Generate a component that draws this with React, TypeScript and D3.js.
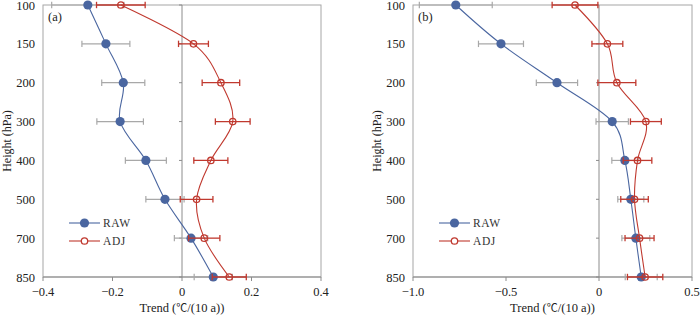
import React from "react";
import * as d3 from "d3";

const levels = ["100", "150", "200", "300", "400", "500", "700", "850"];

const aRaw = [-0.271, -0.219, -0.169, -0.178, -0.104, -0.049, 0.026, 0.09];
const aRawErr = [0.104, 0.069, 0.062, 0.067, 0.059, 0.055, 0.048, 0.055];
const aAdj = [-0.176, 0.033, 0.112, 0.146, 0.083, 0.042, 0.064, 0.136];
const aAdjErr = [0.07, 0.043, 0.054, 0.05, 0.049, 0.047, 0.045, 0.049];

const bRaw = [-0.77, -0.527, -0.226, 0.071, 0.139, 0.171, 0.198, 0.227];
const bRawErr = [0.196, 0.121, 0.111, 0.087, 0.07, 0.07, 0.075, 0.086];
const bAdj = [-0.129, 0.045, 0.096, 0.252, 0.207, 0.191, 0.218, 0.248];
const bAdjErr = [0.123, 0.083, 0.102, 0.083, 0.077, 0.074, 0.078, 0.095];

const aTicks = [-0.4, -0.2, 0, 0.2, 0.4];
const aTickLabels = ["\u22120.4", "\u22120.2", "0", "0.2", "0.4"];
const bTicks = [-1.0, -0.5, 0, 0.5];
const bTickLabels = ["\u22121.0", "\u22120.5", "0", "0.5"];

const BLUE = "#4a66a0";
const RED = "#c0392f";
const GRAYBAR = "#a8a8a8";
const FONT = "Liberation Serif, Times New Roman, DejaVu Serif, serif";
const CJK = "Noto Sans CJK SC, sans-serif";

type PanelProps = {
  x0: number;
  x1: number;
  domain: [number, number];
  ticks: number[];
  tickLabels: string[];
  raw: number[];
  rawErr: number[];
  adj: number[];
  adjErr: number[];
  tag: string;
};

function Panel(p: PanelProps) {
  const y0 = 5;
  const y1 = 277;
  const x = d3.scaleLinear().domain(p.domain).range([p.x0, p.x1]);
  const y = d3.scalePoint<string>().domain(levels).range([y0, y1]).padding(0);
  const line = d3
    .line<number>()
    .x((d) => x(d))
    .y((_, i) => y(levels[i]) as number)
    .curve(d3.curveCardinal.tension(0));
  const x0v = x(0);
  const cap = 3.2;
  const legX = p.x0 + 26;
  return (
    <g>
      {/* frame */}
      <rect x={p.x0} y={y0} width={p.x1 - p.x0} height={y1 - y0} fill="none" stroke="#a6a6a6" strokeWidth={1} />
      {/* zero axis */}
      <line x1={x0v} x2={x0v} y1={y0} y2={y1} stroke="#8c8c8c" strokeWidth={1} />
      {levels.map((l) => (
        <line key={"yt" + l} x1={x0v - 3} x2={x0v} y1={y(l)} y2={y(l)} stroke="#8c8c8c" strokeWidth={1} />
      ))}
      {/* bottom axis */}
      <line x1={p.x0} x2={p.x1} y1={y1} y2={y1} stroke="#8c8c8c" strokeWidth={1.2} />
      {p.ticks.map((t, i) => (
        <g key={"xt" + i}>
          <line x1={x(t)} x2={x(t)} y1={y1} y2={y1 + 4} stroke="#8c8c8c" strokeWidth={1} />
          <text x={x(t)} y={296} textAnchor="middle" fontSize={12.5} fontFamily={FONT} fill="#222">
            {p.tickLabels[i]}
          </text>
        </g>
      ))}
      {levels.map((l) => (
        <text key={"yl" + l} x={p.x0 - 8} y={(y(l) as number) + 4.5} textAnchor="end" fontSize={12.5} fontFamily={FONT} fill="#222">
          {l}
        </text>
      ))}
      <text
        transform={`translate(${p.x0 - 32},${(y0 + y1) / 2}) rotate(-90)`}
        textAnchor="middle"
        fontSize={12}
        fontFamily={FONT}
        fill="#222"
      >
        Height (hPa)
      </text>
      <text x={(p.x0 + p.x1) / 2} y={312} textAnchor="middle" fontSize={12.5} fontFamily={FONT} fill="#222">
        Trend (<tspan fontFamily={CJK} fontSize={11}>℃</tspan>/(10 a))
      </text>
      <text x={p.x0 + 5} y={21} fontSize={12.5} fontFamily={FONT} fill="#222">
        {p.tag}
      </text>

      {/* RAW error bars */}
      {p.raw.map((v, i) => {
        const yy = y(levels[i]) as number;
        const a = x(v - p.rawErr[i]);
        const b = x(v + p.rawErr[i]);
        return (
          <g key={"re" + i} stroke={GRAYBAR} strokeWidth={1.2}>
            <line x1={a} x2={b} y1={yy} y2={yy} />
            <line x1={a} x2={a} y1={yy - cap} y2={yy + cap} />
            <line x1={b} x2={b} y1={yy - cap} y2={yy + cap} />
          </g>
        );
      })}
      <path d={line(p.raw) || ""} fill="none" stroke={BLUE} strokeWidth={1.1} />
      {p.raw.map((v, i) => (
        <circle key={"rc" + i} cx={x(v)} cy={y(levels[i])} r={4.6} fill={BLUE} />
      ))}

      {/* ADJ */}
      {p.adj.map((v, i) => {
        const yy = y(levels[i]) as number;
        const a = x(v - p.adjErr[i]);
        const b = x(v + p.adjErr[i]);
        return (
          <g key={"ae" + i} stroke={RED} strokeWidth={1.3}>
            <line x1={a} x2={b} y1={yy} y2={yy} />
            <line x1={a} x2={a} y1={yy - cap} y2={yy + cap} />
            <line x1={b} x2={b} y1={yy - cap} y2={yy + cap} />
          </g>
        );
      })}
      <path d={line(p.adj) || ""} fill="none" stroke={RED} strokeWidth={1.1} />
      {p.adj.map((v, i) => (
        <circle key={"ac" + i} cx={x(v)} cy={y(levels[i])} r={3.2} fill="none" stroke={RED} strokeWidth={1.3} />
      ))}

      {/* legend */}
      <line x1={legX} x2={legX + 31} y1={223} y2={223} stroke={BLUE} strokeWidth={1.1} />
      <circle cx={legX + 15.5} cy={223} r={4.6} fill={BLUE} />
      <text x={legX + 34} y={227} fontSize={11.5} fontFamily={FONT} fill="#333" letterSpacing={0.6}>
        RAW
      </text>
      <line x1={legX} x2={legX + 31} y1={241} y2={241} stroke={RED} strokeWidth={1.1} />
      <circle cx={legX + 15.5} cy={241} r={3.2} fill="#fff" stroke={RED} strokeWidth={1.3} />
      <text x={legX + 34} y={245} fontSize={11.5} fontFamily={FONT} fill="#333" letterSpacing={0.6}>
        ADJ
      </text>
    </g>
  );
}

export default function App() {
  return (
    <svg
      width={700}
      height={315}
      style={{ position: "absolute", left: 0, top: 0, background: "#fff" }}
    >
      <rect x={0} y={0} width={700} height={315} fill="#fff" />
      <Panel
        x0={43}
        x1={321}
        domain={[-0.4, 0.4]}
        ticks={aTicks}
        tickLabels={aTickLabels}
        raw={aRaw}
        rawErr={aRawErr}
        adj={aAdj}
        adjErr={aAdjErr}
        tag="(a)"
      />
      <Panel
        x0={413}
        x1={692}
        domain={[-1.0, 0.5]}
        ticks={bTicks}
        tickLabels={bTickLabels}
        raw={bRaw}
        rawErr={bRawErr}
        adj={bAdj}
        adjErr={bAdjErr}
        tag="(b)"
      />
    </svg>
  );
}
